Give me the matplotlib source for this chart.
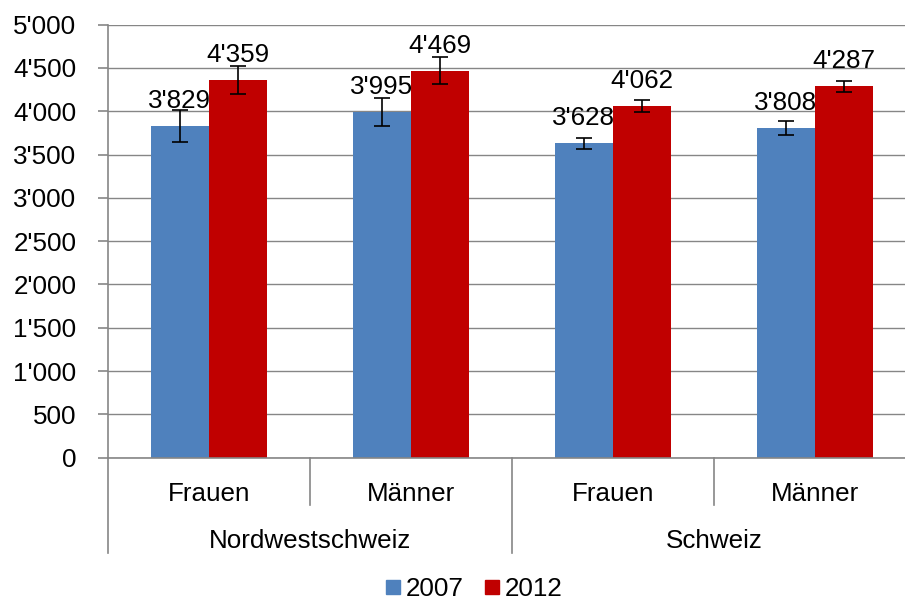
"""Einkommen Nordwestschweiz / Schweiz, 2007 und 2012"""
import matplotlib
matplotlib.use("Agg")
import matplotlib.pyplot as plt  # pylint: disable=import-error
from matplotlib.patches import Patch
from matplotlib.ticker import FuncFormatter, MultipleLocator

plt.rcParams["font.family"] = ["Liberation Sans", "DejaVu Sans"]

# Daten
categories = ["Frauen", "Männer", "Frauen", "Männer"]
groups = ["Nordwestschweiz", "Schweiz"]
values_2007 = [3829, 3995, 3628, 3808]
values_2012 = [4359, 4469, 4062, 4287]
err_2007 = [185, 160, 68, 80]
err_2012 = [158, 156, 66, 68]
series_names = ["2007", "2012"]

BLUE = "#4F81BD"
RED = "#C00000"
GREY = "#868686"
FS = 18.7


def fmt(v, _pos=None):
    """Tausendertrennzeichen als Apostroph"""
    return f"{v:,.0f}".replace(",", "'")


fig = plt.figure(figsize=(9.05, 6.01), dpi=100)
ax = fig.add_axes([0.119, 0.2385, 0.893, 0.7205])

x = list(range(len(categories)))
w = 0.287
x_a = [i - w / 2 for i in x]
x_b = [i + w / 2 for i in x]

ax.bar(x_a, values_2007, width=w, color=BLUE, zorder=2)
ax.bar(x_b, values_2012, width=w, color=RED, zorder=2)
ax.errorbar(x_a, values_2007, yerr=err_2007, fmt="none", ecolor="black",
            elinewidth=1.2, capsize=6, capthick=1.2, zorder=3)
ax.errorbar(x_b, values_2012, yerr=err_2012, fmt="none", ecolor="black",
            elinewidth=1.2, capsize=6, capthick=1.2, zorder=3)

for xs, vals in ((x_a, values_2007), (x_b, values_2012)):
    for xi, v in zip(xs, vals):
        ax.annotate(fmt(v), (xi, v), xytext=(0, 13), textcoords="offset points",
                    ha="center", va="baseline", fontsize=FS, zorder=4)

ax.set_xlim(-0.5, len(categories) - 0.5)
ax.set_ylim(0, 5000)
ax.yaxis.set_major_locator(MultipleLocator(500))
ax.yaxis.set_major_formatter(FuncFormatter(fmt))
ax.tick_params(axis="y", labelsize=FS, length=7, width=1.2, color=GREY,
               direction="out", pad=15.5)
ax.set_xticks([])
ax.grid(axis="y", color=GREY, linewidth=1.0, zorder=0)
for s in ("top", "right"):
    ax.spines[s].set_visible(False)
for s in ("left", "bottom"):
    ax.spines[s].set_color(GREY)
    ax.spines[s].set_linewidth(1.2)

# zweistufige Kategorienachse
trans = ax.get_xaxis_transform()
for i in range(len(categories) + 1):
    y_end = -0.22 if i % 2 == 0 else -0.109
    ax.plot([i - 0.5, i - 0.5], [0, y_end], color=GREY, linewidth=1.2,
            transform=trans, clip_on=False)
for i, c in enumerate(categories):
    ax.text(i, -0.099, c, transform=trans, ha="center", va="baseline",
            fontsize=FS)
for j, g in enumerate(groups):
    ax.text(2 * j + 0.5, -0.209, g, transform=trans, ha="center",
            va="baseline", fontsize=FS)

handles = [Patch(color=BLUE), Patch(color=RED)]
fig.legend(handles, series_names, loc="center", bbox_to_anchor=(0.524, 0.02),
           ncol=2, frameon=False, fontsize=FS, handlelength=0.55,
           handleheight=0.48, handletextpad=0.24, columnspacing=0.8,
           borderpad=0, borderaxespad=0)

fig.savefig("out.png", dpi=100)
